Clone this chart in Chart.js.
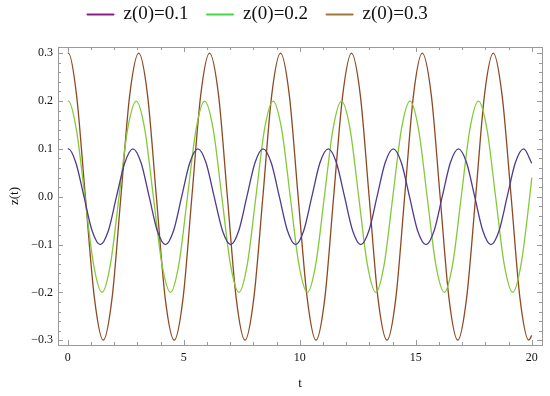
<!DOCTYPE html>
<html>
<head>
<meta charset="utf-8">
<script src="https://cdn.jsdelivr.net/npm/chart.js@4.4.1/dist/chart.umd.min.js"></script>
<style>
  html, body { margin: 0; padding: 0; background: #ffffff; }
  #wrap { width: 550px; height: 396px; }
</style>
</head>
<body>
<div id="wrap"><canvas id="c" width="550" height="396"></canvas></div>
<script>
// ---- data ----
const seriesNames = ['z(0)=0.1', 'z(0)=0.2', 'z(0)=0.3'];

const tPurple = [0,0.03,0.35,0.70,1.05,1.40,1.75,2.10,2.46,2.81,3.16,3.51,3.86,4.21,4.56,4.91,5.26,5.61,5.96,6.31,6.67,7.02,7.37,7.72,8.07,8.42,8.77,9.12,9.47,9.82,10.17,10.52,10.87,11.23,11.58,11.93,12.28,12.63,12.98,13.33,13.68,14.03,14.38,14.73,15.08,15.44,15.79,16.14,16.49,16.84,17.19,17.54,17.89,18.24,18.59,18.94,19.29,19.65,20.00];
const zPurple = [0.1,
  0.1,0.071,0,-0.071,-0.1,-0.071,0,0.071,
  0.1,0.071,0,-0.071,-0.1,-0.071,0,0.071,
  0.1,0.071,0,-0.071,-0.1,-0.071,0,0.071,
  0.1,0.071,0,-0.071,-0.1,-0.071,0,0.071,
  0.1,0.071,0,-0.071,-0.1,-0.071,0,0.071,
  0.1,0.071,0,-0.071,-0.1,-0.071,0,0.071,
  0.1,0.071,0,-0.071,-0.1,-0.071,0,0.071,
  0.1,0.07];

const tGreen = [0,0.03,0.37,0.74,1.11,1.48,1.84,2.21,2.58,2.95,3.32,3.69,4.06,4.43,4.79,5.16,5.53,5.90,6.27,6.64,7.01,7.38,7.74,8.11,8.48,8.85,9.22,9.59,9.96,10.33,10.69,11.06,11.43,11.80,12.17,12.54,12.91,13.28,13.64,14.01,14.38,14.75,15.12,15.49,15.86,16.23,16.59,16.96,17.33,17.70,18.07,18.44,18.81,19.18,19.54,19.91,20.00];
const zGreen = [0.2,
  0.2,0.141,0,-0.141,-0.2,-0.141,0,0.141,
  0.2,0.141,0,-0.141,-0.2,-0.141,0,0.141,
  0.2,0.141,0,-0.141,-0.2,-0.141,0,0.141,
  0.2,0.141,0,-0.141,-0.2,-0.141,0,0.141,
  0.2,0.141,0,-0.141,-0.2,-0.141,0,0.141,
  0.2,0.141,0,-0.141,-0.2,-0.141,0,0.141,
  0.2,0.141,0,-0.141,-0.2,-0.141,0,0.04];

const tBrown = [0,0.03,0.38,0.76,1.15,1.53,1.91,2.29,2.67,3.06,3.44,3.82,4.20,4.59,4.97,5.35,5.73,6.11,6.50,6.88,7.26,7.64,8.02,8.41,8.79,9.17,9.55,9.93,10.32,10.70,11.08,11.46,11.85,12.23,12.61,12.99,13.37,13.76,14.14,14.52,14.90,15.28,15.67,16.05,16.43,16.81,17.19,17.58,17.96,18.34,18.72,19.11,19.49,19.87,20.00];
const zBrown = [0.3,
  0.3,0.212,0,-0.212,-0.3,-0.212,0,0.212,
  0.3,0.212,0,-0.212,-0.3,-0.212,0,0.212,
  0.3,0.212,0,-0.212,-0.3,-0.212,0,0.212,
  0.3,0.212,0,-0.212,-0.3,-0.212,0,0.212,
  0.3,0.212,0,-0.212,-0.3,-0.212,0,0.212,
  0.3,0.212,0,-0.212,-0.3,-0.212,0,0.212,
  0.3,0.212,0,-0.212,-0.3,-0.29];

const xTickValues = [0, 5, 10, 15, 20];
const xTickLabels = ['0', '5', '10', '15', '20'];
const yTickValues = [-0.3, -0.2, -0.1, 0, 0.1, 0.2, 0.3];
const yTickLabels = ['\u22120.3', '\u22120.2', '\u22120.1', '0.0', '0.1', '0.2', '0.3'];

// ---- styling ----
const lineColors = ['#4f3a8c', '#84c93a', '#8c4a22'];
const legendColors = ['#8a1c8a', '#44d844', '#a0783a'];
const FRAME = '#9a9a9a';
const SERIF = "'Liberation Serif', 'Times New Roman', serif";

function pts(ts, zs) { return ts.map((t, i) => ({ x: t, y: zs[i] })); }

const xMinor = []; for (let v = 0; v <= 20; v++) xMinor.push(v);
const yMinor = []; for (let k = -15; k <= 15; k++) yMinor.push(k / 50);

const frameTicks = {
  id: 'frameTicks',
  afterLayout(chart) {
    const L = chart.legend;
    if (L) { L.left += 69; L.right += 69; L.top -= 13; L.bottom -= 13; }
  },
  afterDraw(chart) {
    const { ctx, chartArea: a, scales } = chart;
    ctx.save();
    ctx.strokeStyle = FRAME;
    ctx.lineWidth = 1;
    ctx.beginPath();
    xMinor.forEach(v => {
      const major = xTickValues.includes(v);
      const len = major ? 5 : 3;
      const px = Math.round(scales.x.getPixelForValue(v)) + 0.5;
      ctx.moveTo(px, a.bottom); ctx.lineTo(px, a.bottom - len);
      ctx.moveTo(px, a.top); ctx.lineTo(px, a.top + len);
    });
    yMinor.forEach(v => {
      const major = yTickValues.some(t => Math.abs(t - v) < 1e-9);
      const len = major ? 5 : 3;
      const py = Math.round(scales.y.getPixelForValue(v)) + 0.5;
      ctx.moveTo(a.left, py); ctx.lineTo(a.left + len, py);
      ctx.moveTo(a.right, py); ctx.lineTo(a.right - len, py);
    });
    ctx.stroke();
    ctx.restore();
  }
};

const X_MIN = -0.42, X_MAX = 20.44, Y_MIN = -0.31, Y_MAX = 0.313;

new Chart(document.getElementById('c'), {
  type: 'line',
  data: {
    datasets: [
      { label: seriesNames[0], data: pts(tPurple, zPurple), borderColor: lineColors[0] },
      { label: seriesNames[1], data: pts(tGreen, zGreen), borderColor: lineColors[1] },
      { label: seriesNames[2], data: pts(tBrown, zBrown), borderColor: lineColors[2] }
    ].map(d => Object.assign(d, {
      borderWidth: 1.3, pointRadius: 0, fill: false,
      cubicInterpolationMode: 'monotone'
    }))
  },
  options: {
    responsive: false,
    animation: false,
    devicePixelRatio: 1,
    layout: { padding: 0 },
    plugins: {
      tooltip: { enabled: false },
      legend: {
        position: 'top',
        align: 'start',
        labels: {
          font: { family: SERIF, size: 19 },
          color: '#111',
          boxWidth: 27,
          boxHeight: 1,
          padding: 18,
          generateLabels: (chart) => chart.data.datasets.map((d, i) => ({
            text: d.label, fillStyle: legendColors[i], strokeStyle: legendColors[i],
            lineWidth: 1, hidden: false, datasetIndex: i, fontColor: '#111'
          }))
        }
      }
    },
    scales: {
      x: {
        type: 'linear', position: 'bottom', min: X_MIN, max: X_MAX,
        grid: { display: false, drawTicks: false },
        border: { display: true, color: FRAME, width: 1 },
        afterBuildTicks: s => { s.ticks = xTickValues.map(v => ({ value: v })); },
        afterFit: s => { s.height = 51; },
        ticks: {
          autoSkip: false, maxRotation: 0, padding: 6, color: '#111',
          font: { family: SERIF, size: 12 },
          callback: (v) => { const i = xTickValues.indexOf(v); return i >= 0 ? xTickLabels[i] : ''; }
        },
        title: { display: true, text: 't', color: '#111', font: { family: SERIF, size: 13 }, padding: { top: 0, bottom: 5 } }
      },
      x2: {
        type: 'linear', position: 'top', min: X_MIN, max: X_MAX,
        grid: { display: false, drawTicks: false },
        border: { display: true, color: FRAME, width: 1 },
        ticks: { display: false },
        afterFit: s => { s.height = 47 - (s.chart.legend ? s.chart.legend.height : 0); }
      },
      y: {
        type: 'linear', position: 'left', min: Y_MIN, max: Y_MAX,
        grid: { display: false, drawTicks: false },
        border: { display: true, color: FRAME, width: 1 },
        afterBuildTicks: s => { s.ticks = yTickValues.map(v => ({ value: v })); },
        afterFit: s => { s.width = 58; },
        ticks: {
          autoSkip: false, padding: 5, color: '#111',
          font: { family: SERIF, size: 12 },
          callback: (v) => { const i = yTickValues.findIndex(t => Math.abs(t - v) < 1e-9); return i >= 0 ? yTickLabels[i] : ''; }
        },
        title: { display: true, text: 'z(t)', color: '#111', font: { family: SERIF, size: 13 }, padding: { top: 7, bottom: 0 } }
      },
      y2: {
        type: 'linear', position: 'right', min: Y_MIN, max: Y_MAX,
        grid: { display: false, drawTicks: false },
        border: { display: true, color: FRAME, width: 1 },
        ticks: { display: false },
        afterFit: s => { s.width = 8; }
      }
    }
  },
  plugins: [frameTicks]
});
</script>
</body>
</html>
